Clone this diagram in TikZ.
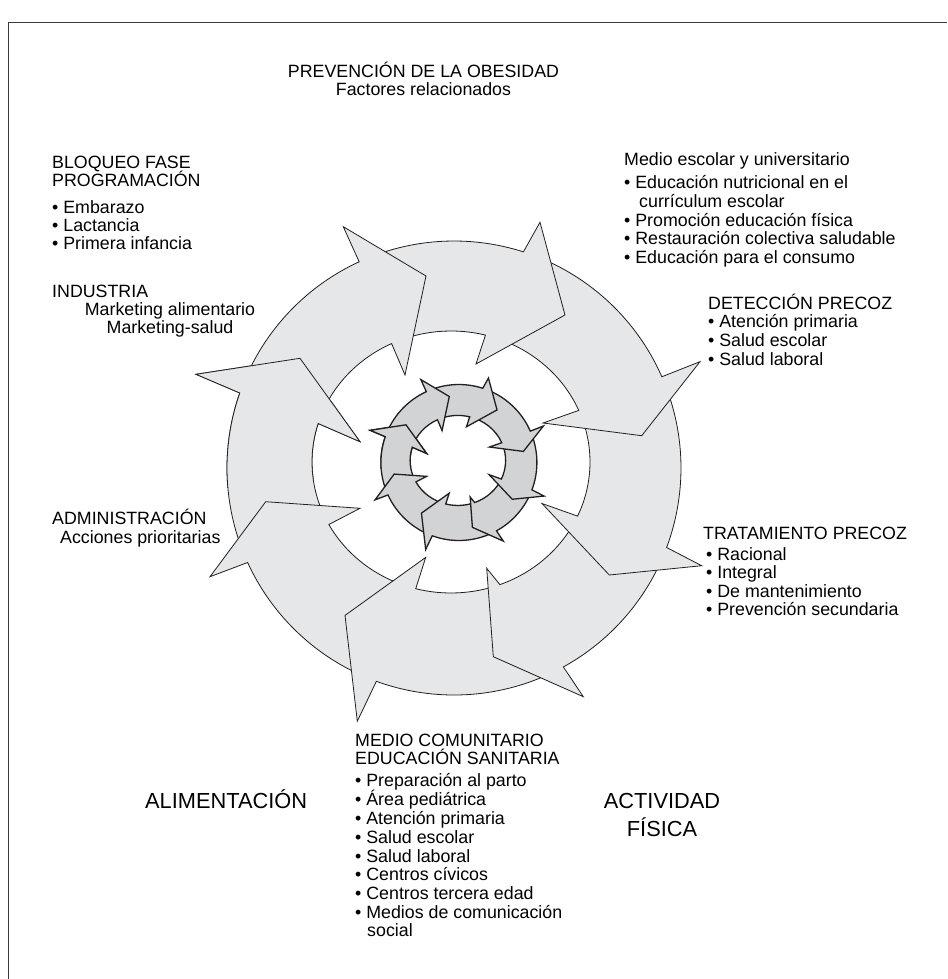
\documentclass[tikz,border=0pt]{standalone}
\usepackage{fontspec}
\setmainfont{Liberation Sans}
\definecolor{ringA}{HTML}{E6E7E8}
\definecolor{ringB}{HTML}{D1D3D4}
\definecolor{edgec}{HTML}{231F20}
\definecolor{framec}{HTML}{3A3A3A}
\newcommand{\fsz}{\fontsize{17.8}{19}\selectfont}
\newcommand{\fbig}{\fontsize{21.8}{26}\selectfont}
% one arrow of the ring: #1 outer start angle, #2 outer end angle,
% #3 outer barb, #4 tip, #5 inner barb, #6 inner end angle, #7 inner start angle
\newcommand{\ringarrow}[7]{%
  \path[ringpart] (#1:227) arc[start angle=#1, end angle=#2, radius=227]
    -- #3 -- #4 -- #5
    -- ({-3+139*cos(#6)},{6+131*sin(#6)})
    arc[start angle=#6, end angle=#7, x radius=139, y radius=131] -- cycle;}
\newcommand{\arrowG}{\ringarrow{-155.4}{-199.3}{(-258,93.7)}{(-154,109.7)}{(-94,26.3)}{-197.1}{-151.5}}
\newcommand{\fullring}{%
  \arrowG
  \ringarrow{-110}{-155.4}{(-244,-108.7)}{(-188.3,-33.7)}{(-94,-40.3)}{-151.5}{-104.7}
  \ringarrow{-61.2}{-110}{(-96.7,-253.2)}{(-109,-147.4)}{(-28.3,-89.4)}{-104.7}{-69.4}
  \ringarrow{-20.5}{-61.2}{(129.3,-228.7)}{(39.3,-188.7)}{(32.7,-100.3)}{-69.4}{-24.4}
  \ringarrow{23.7}{-20.5}{(247.7,-97.7)}{(155.3,-107)}{(88,-35.5)}{-24.4}{23.2}
  \ringarrow{72.2}{23.7}{(246,106.3)}{(187.7,32.3)}{(89,45)}{23.2}{75.65}
  \ringarrow{114.7}{72.2}{(86,245.7)}{(111,153)}{(22,104)}{75.65}{115.3}
  \ringarrow{160.7}{114.7}{(-110.7,241.3)}{(-28,192)}{(-49,93)}{115.3}{162.9}
  \begin{scope}
    \clip (0,0) -- (135:430) -- (160:430) -- (185:430) -- cycle;
    \arrowG
  \end{scope}}
\begin{document}
\begin{tikzpicture}[x=1pt,y=1pt,
  txt/.style={anchor=base west, inner sep=0pt, font=\fsz, text=black},
  ctxt/.style={anchor=base, inner sep=0pt, font=\fsz, text=black},
  bigtxt/.style={inner sep=0pt, font=\fbig, text=black},
  ringpart/.style={fill=ringA, draw=edgec, line width=0.8pt, line join=miter},
  ringpartB/.style={fill=ringB, draw=edgec, line width=1.3pt, line join=miter}]
\useasboundingbox (0,0) rectangle (947,-979);
\fill[white] (0,0) rectangle (947,-979);
% frame
\draw[framec, line width=1.6pt] (8.5,-979) -- (8.5,-22.5) -- (947,-22.5);
% outer ring
\begin{scope}[shift={(454,-468)}]
  \fullring
\end{scope}
% inner ring (scaled copy)
\begin{scope}[shift={(458.9,-462.5)}, scale=0.3436, ringpart/.style={ringpartB}]
  \fullring
\end{scope}
% title
\node[ctxt] (title1) at (423.5,-78) {PREVENCIÓN DE LA OBESIDAD};
\node[ctxt] (title2) at (423.5,-96) {Factores relacionados};
% left top
\node[txt] (bl1) at (52,-168) {BLOQUEO FASE};
\node[txt] (bl2) at (52,-186) {PROGRAMACIÓN};
\node[txt] (bl3) at (52,-213) {• Embarazo};
\node[txt] (bl4) at (52,-231) {• Lactancia};
\node[txt] (bl5) at (52,-249) {• Primera infancia};
% industria
\node[txt] (in1) at (52,-297) {INDUSTRIA};
\node[ctxt] (in2) at (170,-315) {Marketing alimentario};
\node[ctxt] (in3) at (170,-333) {Marketing-salud};
% administracion
\node[txt] (ad1) at (52,-524) {ADMINISTRACIÓN};
\node[txt] (ad2) at (60,-543) {Acciones prioritarias};
% medio escolar
\node[txt] (me1) at (624,-165) {Medio escolar y universitario};
\node[txt] (me2) at (624,-188) {• Educación nutricional en el};
\node[txt] (me3) at (639,-207) {currículum escolar};
\node[txt] (me4) at (624,-226) {• Promoción educación física};
\node[txt] (me5) at (624,-244) {• Restauración colectiva saludable};
\node[txt] (me6) at (624,-263) {• Educación para el consumo};
% deteccion
\node[txt] (de1) at (708,-309) {DETECCIÓN PRECOZ};
\node[txt] (de2) at (708,-327) {• Atención primaria};
\node[txt] (de3) at (708,-346) {• Salud escolar};
\node[txt] (de4) at (708,-365) {• Salud laboral};
% tratamiento
\node[txt] (tr1) at (703,-539) {TRATAMIENTO PRECOZ};
\node[txt] (tr2) at (706,-560) {• Racional};
\node[txt] (tr3) at (706,-578) {• Integral};
\node[txt] (tr4) at (706,-597) {• De mantenimiento};
\node[txt] (tr5) at (706,-615) {• Prevención secundaria};
% medio comunitario
\node[txt] (mc1) at (355,-746) {MEDIO COMUNITARIO};
\node[txt] (mc2) at (355,-764) {EDUCACIÓN SANITARIA};
\node[txt] (mc3) at (355,-786) {• Preparación al parto};
\node[txt] (mc4) at (355,-805) {• Área pediátrica};
\node[txt] (mc5) at (355,-824) {• Atención primaria};
\node[txt] (mc6) at (355,-843) {• Salud escolar};
\node[txt] (mc7) at (355,-862) {• Salud laboral};
\node[txt] (mc8) at (355,-880) {• Centros cívicos};
\node[txt] (mc9) at (355,-899) {• Centros tercera edad};
\node[txt] (mc10) at (355,-918) {• Medios de comunicación};
\node[txt] (mc11) at (367,-936) {social};
% big words
\node[bigtxt, anchor=base west] (alim) at (145,-808) {ALIMENTACIÓN};
\node[bigtxt, anchor=base] (act1) at (662,-808) {ACTIVIDAD};
\node[bigtxt, anchor=base] (act2) at (662,-836) {FÍSICA};
\end{tikzpicture}
\end{document}
